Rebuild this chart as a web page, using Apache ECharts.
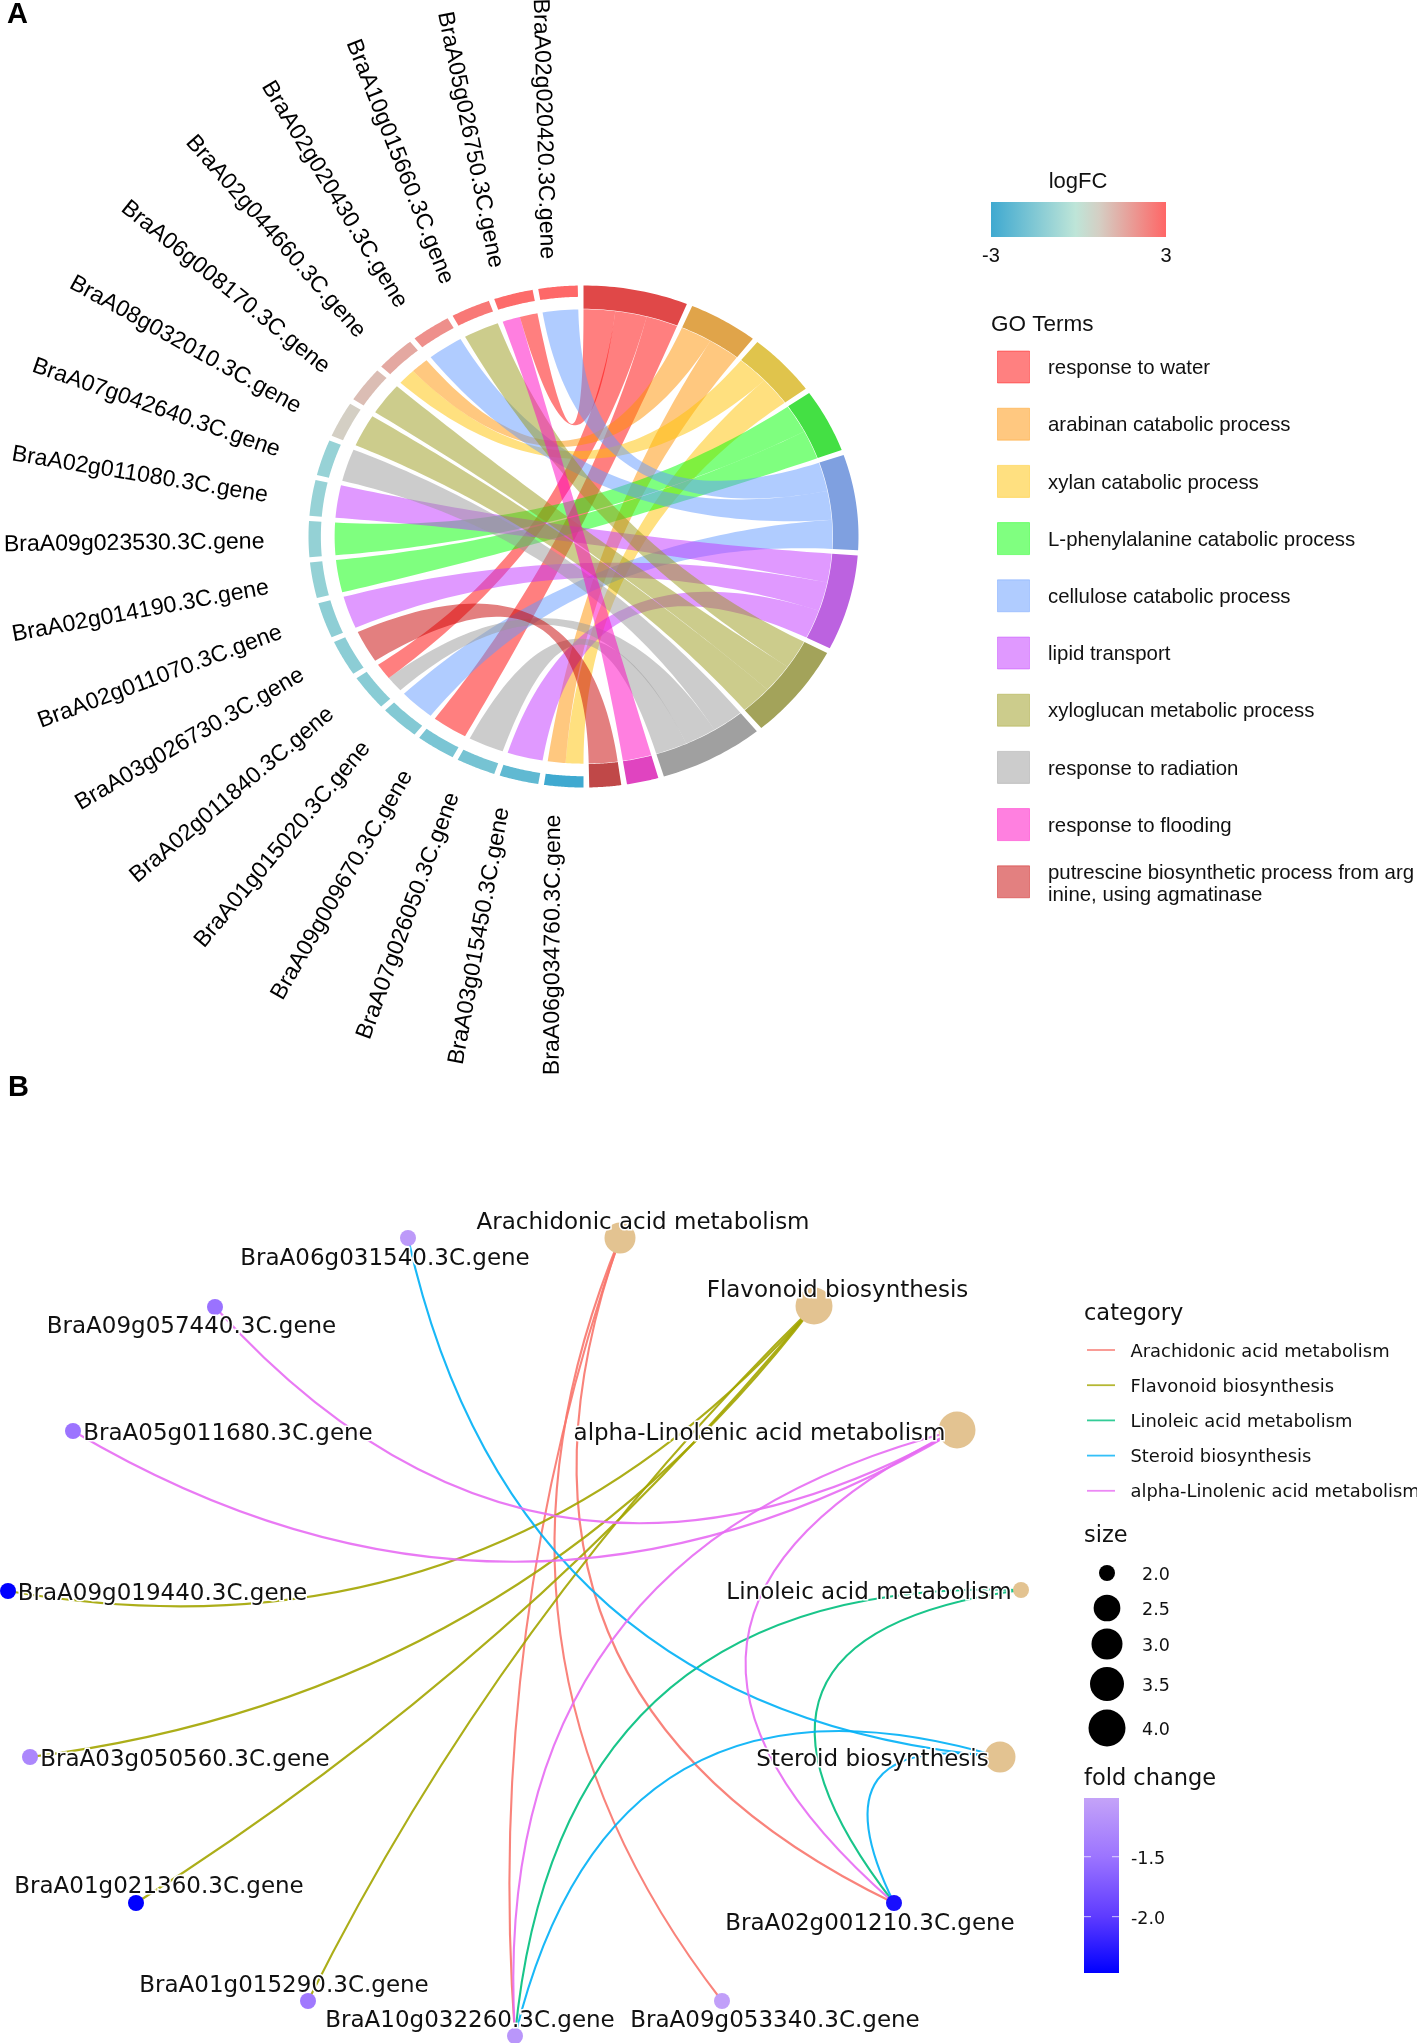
<!DOCTYPE html>
<html><head><meta charset="utf-8">
<style>html,body{margin:0;padding:0;background:#fff}#c{width:1417px;height:2043px}</style>
<script src="https://cdn.jsdelivr.net/npm/echarts@6/dist/echarts.min.js"></script>
</head><body><div id="c"></div>
<script>
// ---------- Panel A data ----------
const geneNames=['BraA06g034760.3C.gene','BraA03g015450.3C.gene','BraA07g026050.3C.gene','BraA09g009670.3C.gene','BraA01g015020.3C.gene','BraA02g011840.3C.gene','BraA03g026730.3C.gene','BraA02g011070.3C.gene','BraA02g014190.3C.gene','BraA09g023530.3C.gene','BraA02g011080.3C.gene','BraA07g042640.3C.gene','BraA08g032010.3C.gene','BraA06g008170.3C.gene','BraA02g044660.3C.gene','BraA02g020430.3C.gene','BraA10g015660.3C.gene','BraA05g026750.3C.gene','BraA02g020420.3C.gene'];
const geneLogFC=[-3,-2.25,-1.75,-1.65,-1.45,-1.3,-1.25,-1.2,-1.05,-1.05,-1.0,-1.0,0.7,1.1,1.55,2.1,2.6,2.9,2.95];
const geneTerms=[[2,1],[5],[7],[0],[4],[7,0],[9],[5],[3],[3],[5],[7],[6],[6],[2,1],[4],[6],[8,0],[4]];
const termNames=['response to water','arabinan catabolic process','xylan catabolic process','L-phenylalanine catabolic process','cellulose catabolic process','lipid transport','xyloglucan metabolic process','response to radiation','response to flooding','putrescine biosynthetic process from arg\ninine, using agmatinase'];
const termWeight=[1,1,1,1,1,1,1,1,.91,.91];
const termFill=['#FF0000','#FF9100','#FFC100','#00FF00','#6199FF','#C133FF','#999919','#999999','#FF00C1','#C70000'];
const termSwatch=['#FF8080','#FFC880','#FFE080','#80FF80','#B0CCFF','#E099FF','#CCCC8C','#CCCCCC','#FF80E0','#E38080'];
const termRing=['#E04848','#E0A44A','#E0C44C','#44E044','#7FA0E0','#BC62E0','#A3A35A','#A0A0A0','#E044C0','#C04848'];
const logFCStops=[[-3,'#3FA9D0'],[-0.1,'#BEE5D8'],[0.7,'#D4CFC4'],[3,'#FF6666']];
// ---------- Panel B data ----------
const netNames=['Arachidonic acid metabolism','Flavonoid biosynthesis','alpha-Linolenic acid metabolism','Linoleic acid metabolism','Steroid biosynthesis','BraA06g031540.3C.gene','BraA09g057440.3C.gene','BraA05g011680.3C.gene','BraA09g019440.3C.gene','BraA03g050560.3C.gene','BraA01g021360.3C.gene','BraA01g015290.3C.gene','BraA10g032260.3C.gene','BraA09g053340.3C.gene','BraA02g001210.3C.gene'];
const netX=[6.20,8.14,9.57,10.21,10.00,4.08,2.15,0.73,0.08,0.30,1.36,3.08,5.15,7.22,8.94];
const netY=[8.05,7.37,6.13,4.53,2.86,8.05,7.36,6.12,4.52,2.86,1.40,0.42,0.07,0.42,1.40];
const termSizes=[3,4,4,2,3];
const foldChange=[null,null,null,null,null,-1.1,-1.52,-1.5,-2.47,-1.3,-2.47,-1.45,-1.15,-1.05,-2.35];
const netLabelOffset=[[23,-15],[23.5,-14.5],[-197.5,4],[-152,3.5],[-127.5,3.5],[-23,21],[-23.5,20.5],[155,3.5],[154.5,3.5],[155,3.5],[23,-15.5],[-24,-15],[-45,-15],[53,20],[-24,21]];
// edges: [term, gene, curveness]
const netEdges=[[0,12,-.104],[0,13,-.29],[0,14,-.448],[1,8,.28],[1,9,.21],[1,10,.08],[1,11,-.084],[3,12,-.47],[3,14,-.865],[4,5,.366],[4,12,-.525],[4,14,-.95],[2,6,.40],[2,7,.297],[2,12,-.413],[2,14,-.755]];
const categoryNames=['Arachidonic acid metabolism','Flavonoid biosynthesis','Linoleic acid metabolism','Steroid biosynthesis','alpha-Linolenic acid metabolism'];
const categoryColors=['#F8766D','#A3A500','#00BF7D','#00B0F6','#E76BF3'];
const edgeColorByTerm=[0,1,4,2,3];
const sizeTicks=[2,2.5,3,3.5,4];
const sizeDiam=[16,26.7,31,34,37];
const foldStops=[[-2.47,'#0000FF'],[-2.0,'#5E3BFF'],[-1.5,'#9C74FF'],[-1.01,'#C4A3F8']];
const foldTicks=[-1.5,-2.0];
const termNodeColor='#E3C391';

function hex(c){return [1,3,5].map(i=>parseInt(c.substr(i,2),16));}
function ramp(stops,v){
  if(v<=stops[0][0])return stops[0][1];
  for(let i=1;i<stops.length;i++){ if(v<=stops[i][0]){
    const f=(v-stops[i-1][0])/(stops[i][0]-stops[i-1][0]),a=hex(stops[i-1][1]),b=hex(stops[i][1]);
    return 'rgb('+a.map((x,k)=>Math.round(x+(b[k]-x)*f)).join(',')+')';}}
  return stops[stops.length-1][1];
}
// ---------- chord layout (angles in degrees, clockwise from top) ----------
const sweep=178.8, gap=1.2;
const geneW=(sweep-(geneNames.length-1)*gap)/geneNames.length;
const termCount=termNames.map((_,t)=>geneTerms.filter(a=>a.includes(t)).length);
const weightSum=termCount.reduce((s,n,t)=>s+n*termWeight[t],0);
const termUnit=(sweep-(termNames.length-1)*gap)/weightSum;
const termStart=[];let acc=0;termCount.forEach((n,t)=>{termStart.push(acc);acc+=n*termUnit*termWeight[t]+gap;});
const rTermIn=.907,rGeneIn=.955,rOut=1,rRib=.905;
const ringData=[],ribbons=[];
termNames.forEach((_,t)=>ringData.push([termStart[t],termStart[t]+termCount[t]*termUnit*termWeight[t],rTermIn,rOut,t,-1]));
geneNames.forEach((_,g)=>{const s=180+g*(geneW+gap);ringData.push([s,s+geneW,rGeneIn,rOut,-1,g]);});
geneTerms.forEach((ts,g)=>{
  const s=180+g*(geneW+gap),w=geneW/ts.length;
  ts.forEach((t,k)=>{
    let slot=0;for(let h=geneNames.length-1;h>g;h--)if(geneTerms[h].includes(t))slot++;
    const u=termUnit*termWeight[t],b0=termStart[t]+slot*u;
    ribbons.push([s+k*w,s+(k+1)*w,b0,b0+u,t]);
  });
});
const rad=d=>d*Math.PI/180;
const P=(t,r)=>[r*Math.sin(rad(t)),r*Math.cos(rad(t))];
function arc(t0,t1,r,n){const o=[];for(let i=0;i<=n;i++)o.push(P(t0+(t1-t0)*i/n,r));return o;}
function quad(a,b,n){const o=[];for(let i=1;i<n;i++){const s=i/n,k=(1-s)*(1-s),m=s*s;o.push([k*a[0]+m*b[0],k*a[1]+m*b[1]]);}return o;}

// ---------- legends ----------
const G=[];
const sansA='"Liberation Sans"',sansB='"DejaVu Sans"';
function txt(x,y,text,size,font,align,extra){G.push({type:'text',x,y,silent:true,style:{text,fill:'#111',font:(extra||'')+' '+size+'px '+font,align:align||'left',verticalAlign:'middle',lineHeight:22}});}
G.push({type:'text',x:7,y:14.5,silent:true,style:{text:'A',fill:'#000',font:'bold 29px '+sansA,align:'left',verticalAlign:'middle'}});
G.push({type:'text',x:8,y:1088,silent:true,style:{text:'B',fill:'#000',font:'bold 29px '+sansA,align:'left',verticalAlign:'middle'}});
txt(1078,182,'logFC',22,sansA,'center');
const lfcMin=logFCStops[0][0],lfcMax=logFCStops[logFCStops.length-1][0];
G.push({type:'rect',silent:true,shape:{x:991,y:202,width:175,height:35},style:{fill:new echarts.graphic.LinearGradient(0,0,1,0,logFCStops.map(s=>({offset:(s[0]-lfcMin)/(lfcMax-lfcMin),color:s[1]})))}});
txt(991,256,'-3',20,sansA,'center');
txt(1166,256,'3',20,sansA,'center');
txt(991,324.5,'GO Terms',22.5,sansA);
termNames.forEach((n,i)=>{
  const cy=367+i*57.2;
  G.push({type:'rect',silent:true,shape:{x:997.5,y:cy-16,width:32,height:32},style:{fill:termSwatch[i],stroke:termFill[i],lineWidth:1,strokeOpacity:.4}});
  txt(1048,(i===9?cy+1:cy)+1.5,n,20.4,sansA);
});
txt(1084,1314.5,'category',22.5,sansB);
categoryNames.forEach((n,i)=>{
  const y=1350+i*35.2;
  G.push({type:'line',silent:true,shape:{x1:1087,y1:y,x2:1115,y2:y},style:{stroke:categoryColors[i],lineWidth:1.8,opacity:.8}});
  txt(1130.5,y+2,n,17.9,sansB);
});
txt(1084,1536.5,'size',22.5,sansB);
const sizeY=[1573,1608,1644,1684,1728];
sizeTicks.forEach((v,i)=>{
  G.push({type:'circle',silent:true,shape:{cx:1107,cy:sizeY[i],r:sizeDiam[i]/2},style:{fill:'#000'}});
  txt(1142,sizeY[i]+2,v.toFixed(1),17.5,sansB);
});
txt(1084,1779,'fold change',22.5,sansB);
const fMin=foldStops[0][0],fMax=foldStops[foldStops.length-1][0];
G.push({type:'rect',silent:true,shape:{x:1084,y:1798,width:35,height:175},style:{fill:new echarts.graphic.LinearGradient(0,1,0,0,foldStops.map(s=>({offset:(s[0]-fMin)/(fMax-fMin),color:s[1]})))}});
foldTicks.forEach(v=>{
  const y=1798+175*(fMax-v)/(fMax-fMin);
  G.push({type:'line',silent:true,shape:{x1:1084,y1:y,x2:1091,y2:y},style:{stroke:'#fff',lineWidth:1,opacity:.7}});
  G.push({type:'line',silent:true,shape:{x1:1112,y1:y,x2:1119,y2:y},style:{stroke:'#fff',lineWidth:1,opacity:.7}});
  txt(1131,y+2.5,v.toFixed(1),17.5,sansB);
});

// ---------- network nodes/links ----------
const nodes=netNames.map((n,i)=>{
  const isTerm=i<termSizes.length;
  const d=isTerm?sizeDiam[sizeTicks.indexOf(termSizes[i])]:16;
  return {name:n,value:[netX[i],netY[i]],symbolSize:d,
    itemStyle:{color:isTerm?termNodeColor:ramp(foldStops,foldChange[i])},
    label:{show:true,position:'inside',offset:netLabelOffset[i],formatter:n,color:'#111',fontFamily:'DejaVu Sans',fontSize:23,textBorderColor:'#fff',textBorderWidth:3}};
});
const edges=netEdges.map(e=>({source:e[0],target:e[1],lineStyle:{color:categoryColors[edgeColorByTerm[e[0]]],width:2.1,opacity:.9,curveness:e[2]}}));

const chart=echarts.init(document.getElementById('c'),null,{renderer:'canvas',width:1417,height:2043});
chart.setOption({
  animation:false,backgroundColor:'#fff',
  grid:[{left:308.5,top:285.5,width:550,height:502,show:false},{left:0,top:1100,width:1060,height:943,show:false}],
  xAxis:[{type:'value',gridIndex:0,min:-1,max:1,show:false},{type:'value',gridIndex:1,min:0,max:10.6,show:false}],
  yAxis:[{type:'value',gridIndex:0,min:-1,max:1,show:false},{type:'value',gridIndex:1,min:0,max:9.43,show:false}],
  tooltip:{show:false},
  graphic:{elements:G},
  series:[
   {type:'custom',name:'ribbons',xAxisIndex:0,yAxisIndex:0,silent:true,clip:false,data:ribbons,
    encode:{x:[],y:[]},
    renderItem(p,api){
      const a0=api.value(0),a1=api.value(1),b0=api.value(2),b1=api.value(3),t=api.value(4);
      const pts=[].concat(arc(a0,a1,rRib,8),quad(P(a1,rRib),P(b0,rRib),60),arc(b0,b1,rRib,8),quad(P(b1,rRib),P(a0,rRib),60));
      return {type:'polygon',shape:{points:pts.map(q=>api.coord(q))},style:{fill:termFill[t],opacity:.5}};
    }},
   {type:'custom',name:'ring',xAxisIndex:0,yAxisIndex:0,silent:true,clip:false,data:ringData,
    encode:{x:[],y:[]},
    renderItem(p,api){
      const s=api.value(0),e=api.value(1),ri=api.value(2),ro=api.value(3),t=api.value(4),g=api.value(5);
      const pts=arc(s,e,ro,24).concat(arc(e,s,ri,24)).map(q=>api.coord(q));
      const fill=t>=0?termRing[t]:ramp(logFCStops,geneLogFC[g]);
      const kids=[{type:'polygon',shape:{points:pts},style:{fill}}];
      if(g>=0){
        const m=(s+e)/2,sp=api.coord([1.16*Math.sin(rad(m)),1.11*Math.cos(rad(m))]);
        // tilt of the radial labels eases towards the vertical
        const below=m<270, phi=below?m-180:360-m;
        const ease=4*(1-phi/90);
        const rot=below?270-m+ease:270-m-ease;
        kids.push({type:'text',x:sp[0]-7*(1-phi/90),y:sp[1]+2.5*phi/90,rotation:rad(rot),style:{text:geneNames[g],fill:'#000',font:'23.1px "Liberation Sans"',align:'right',verticalAlign:'middle'}});
      }
      return {type:'group',children:kids};
    }},
   {type:'graph',name:'network',coordinateSystem:'cartesian2d',xAxisIndex:1,yAxisIndex:1,silent:true,roam:false,
    data:nodes,links:edges,edgeSymbol:['none','none'],emphasis:{disabled:true}}
  ]
});
</script></body></html>
